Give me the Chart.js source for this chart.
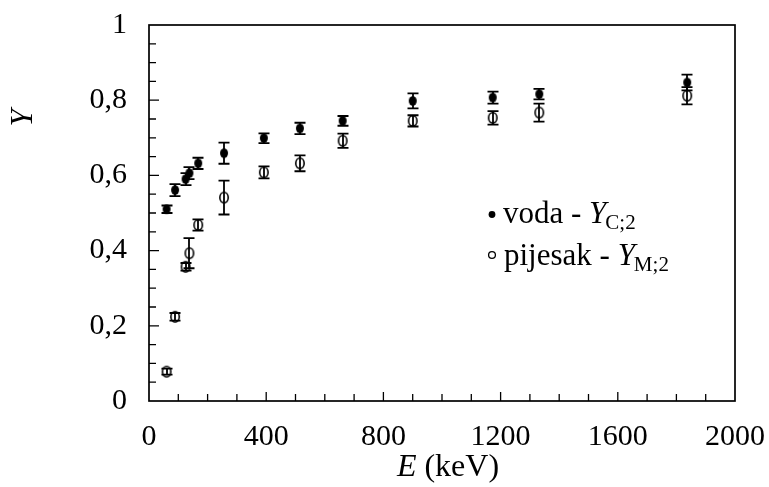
<!DOCTYPE html>
<html><head><meta charset="utf-8">
<script src="https://cdn.jsdelivr.net/npm/chart.js@4.4.0/dist/chart.umd.min.js"></script>
<style>html,body{margin:0;padding:0;background:#fff;}canvas{display:block;}</style>
</head><body>
<canvas id="c" width="769" height="487"></canvas>
<script>
const energies = [60, 89, 125, 138, 168, 256, 392, 515, 661, 900, 1173, 1332, 1837];
const vodaY    = [0.510, 0.561, 0.590, 0.606, 0.632, 0.659, 0.699, 0.725, 0.745, 0.798, 0.807, 0.816, 0.847];
const vodaErr  = [0.010, 0.016, 0.016, 0.016, 0.015, 0.028, 0.013, 0.015, 0.013, 0.020, 0.016, 0.014, 0.021];
const pijesakY   = [0.078, 0.224, 0.357, 0.393, 0.468, 0.541, 0.608, 0.632, 0.692, 0.745, 0.753, 0.767, 0.812];
const pijesakErr = [0.008, 0.010, 0.010, 0.040, 0.015, 0.045, 0.016, 0.021, 0.019, 0.015, 0.018, 0.024, 0.023];
const xTicks = [0, 400, 800, 1200, 1600, 2000];
const yTicks = [0, 0.2, 0.4, 0.6, 0.8, 1];

const FONT = '"Liberation Serif", "Times New Roman", serif';

function markerImg(filled) {
  const c = document.createElement('canvas');
  c.width = 16; c.height = 16;
  const g = c.getContext('2d');
  g.beginPath();
  if (filled) {
    g.ellipse(8, 8, 4.0, 4.8, 0, 0, Math.PI * 2);
    g.fillStyle = '#000'; g.fill();
  } else {
    g.ellipse(8, 8, 4.2, 5.2, 0, 0, Math.PI * 2);
    g.lineWidth = 1.6; g.strokeStyle = '#000'; g.stroke();
  }
  return c;
}

const errPlugin = {
  id: 'errbars',
  afterDatasetsDraw(chart) {
    const ctx = chart.ctx, xs = chart.scales.x, ys = chart.scales.y;
    const sets = [[vodaY, vodaErr], [pijesakY, pijesakErr]];
    ctx.save();
    ctx.strokeStyle = '#000';
    ctx.lineWidth = 1.8;
    sets.forEach(([vals, errs]) => {
      vals.forEach((v, i) => {
        const px = Math.round(xs.getPixelForValue(energies[i]));
        const top = ys.getPixelForValue(v + errs[i]);
        const bot = ys.getPixelForValue(v - errs[i]);
        ctx.beginPath();
        ctx.moveTo(px, top); ctx.lineTo(px, bot);
        ctx.moveTo(px - 5.5, top); ctx.lineTo(px + 5.5, top);
        ctx.moveTo(px - 5.5, bot); ctx.lineTo(px + 5.5, bot);
        ctx.stroke();
      });
    });
    ctx.restore();
  }
};

const framePlugin = {
  id: 'frame',
  afterDraw(chart) {
    const ctx = chart.ctx, a = chart.chartArea, xs = chart.scales.x, ys = chart.scales.y;
    ctx.save();
    ctx.strokeStyle = '#000';
    ctx.lineWidth = 1.7;
    ctx.strokeRect(a.left, a.top, a.right - a.left, a.bottom - a.top);
    ctx.lineWidth = 1.3;
    ctx.beginPath();
    for (let k = 1; k < 20; k++) {
      const py = ys.getPixelForValue(k * 0.05);
      const len = (k % 4 === 0) ? 10 : 7;
      ctx.moveTo(a.left, py); ctx.lineTo(a.left + len, py);
    }
    for (let k = 1; k < 20; k++) {
      const px = xs.getPixelForValue(k * 100);
      const len = (k % 4 === 0) ? 9 : 7;
      ctx.moveTo(px, a.bottom); ctx.lineTo(px, a.bottom - len);
    }
    ctx.stroke();
    ctx.fillStyle = '#000';
    // Y axis title
    ctx.save();
    ctx.translate(32, 118);
    ctx.rotate(-Math.PI / 2);
    ctx.font = 'italic 31px ' + FONT;
    ctx.textAlign = 'center';
    ctx.textBaseline = 'alphabetic';
    ctx.fillText('Y', 0, 0);
    ctx.restore();
    // X axis title
    ctx.textBaseline = 'alphabetic';
    ctx.textAlign = 'left';
    ctx.font = '32px ' + FONT;
    const rest = ' (keV)';
    const wRest = ctx.measureText(rest).width;
    ctx.font = 'italic 32px ' + FONT;
    const wE = ctx.measureText('E').width;
    const x0 = 448 - (wE + wRest) / 2;
    ctx.fillText('E', x0, 476);
    ctx.font = '32px ' + FONT;
    ctx.fillText(rest, x0 + wE, 476);
    // Legend
    const rows = [
      {y: 223, by: 214.5, tx: 503, filled: true, label: 'voda - ', sub: 'C;2'},
      {y: 265, by: 255, tx: 504, filled: false, label: 'pijesak - ', sub: 'M;2'}
    ];
    rows.forEach(r => {
      ctx.beginPath();
      ctx.arc(492, r.by, 3.4, 0, Math.PI * 2);
      if (r.filled) { ctx.fill(); } else { ctx.lineWidth = 1.3; ctx.stroke(); }
      let x = r.tx;
      ctx.font = '31px ' + FONT;
      ctx.fillText(r.label, x, r.y);
      x += ctx.measureText(r.label).width;
      ctx.font = 'italic 31px ' + FONT;
      ctx.fillText('Y', x, r.y);
      x += ctx.measureText('Y').width - 1;
      ctx.font = '21px ' + FONT;
      ctx.fillText(r.sub, x, r.y + 6);
    });
    ctx.restore();
  }
};

new Chart(document.getElementById('c'), {
  type: 'scatter',
  data: {
    datasets: [
      {
        label: 'voda',
        data: energies.map((e, i) => ({x: e, y: vodaY[i]})),
        pointStyle: markerImg(true), pointRadius: 5
      },
      {
        label: 'pijesak',
        data: energies.map((e, i) => ({x: e, y: pijesakY[i]})),
        pointStyle: markerImg(false), pointRadius: 5
      }
    ]
  },
  options: {
    responsive: false,
    animation: false,
    devicePixelRatio: 1,
    layout: {padding: {left: 0, top: 25, right: 34, bottom: 0}},
    plugins: {legend: {display: false}, tooltip: {enabled: false}},
    scales: {
      x: {
        type: 'linear', min: 0, max: 2000,
        afterBuildTicks: s => { s.ticks = xTicks.map(v => ({value: v})); },
        afterFit: s => { s.height = 86; s.paddingLeft = 0; s.paddingRight = 0; },
        grid: {display: false, drawTicks: false},
        border: {display: false},
        ticks: {padding: 18, color: '#000', font: {family: FONT, size: 30}, maxRotation: 0,
          callback: v => String(v)}
      },
      y: {
        min: 0, max: 1,
        afterBuildTicks: s => { s.ticks = yTicks.map(v => ({value: v})); },
        afterFit: s => { s.width = 149; s.paddingTop = 0; s.paddingBottom = 0; },
        grid: {display: false, drawTicks: false},
        border: {display: false},
        ticks: {padding: 22, color: '#000', font: {family: FONT, size: 30},
          callback: v => String(Math.round(v * 10) / 10).replace('.', ',')}
      }
    }
  },
  plugins: [errPlugin, framePlugin]
});
</script>
</body></html>
